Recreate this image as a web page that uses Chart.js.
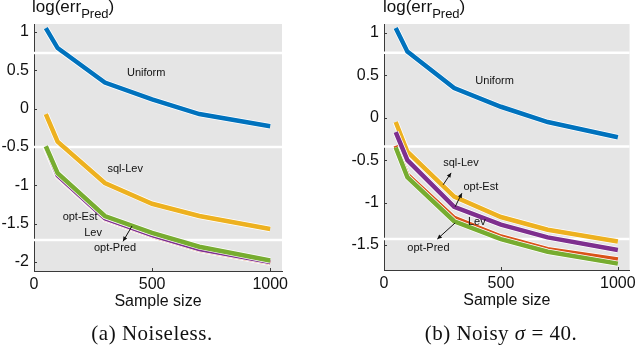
<!DOCTYPE html>
<html>
<head>
<meta charset="utf-8">
<script src="https://cdn.jsdelivr.net/npm/chart.js@4"></script>
<style>
  body { margin: 0; background: #fff; }
  #wrap { position: relative; width: 640px; height: 347px; overflow: hidden; }
  .panel { position: absolute; top: 0; width: 320px; height: 347px; }
  .ylab { position: absolute; top: -2px; font-family: "Liberation Sans", Arial, sans-serif; font-size: 17px; line-height: 17px; white-space: nowrap; color: #111; }
  .ylab sub { font-size: 13px; vertical-align: -6px; line-height: 0; }
  .cap { position: absolute; top: 323px; font-family: "Liberation Serif", serif; font-size: 21px; line-height: 21px; letter-spacing: 0.5px; white-space: nowrap; transform: translateX(-50%); color: #111; }
</style>
</head>
<body>
<div id="wrap">
  <div class="panel" style="left:0"><canvas id="chartA" width="320" height="347"></canvas></div>
  <div class="panel" style="left:320px"><canvas id="chartB" width="320" height="347"></canvas></div>
  <div class="ylab" style="left:32px">log(err<sub>Pred</sub>)</div>
  <div class="ylab" style="left:383px">log(err<sub>Pred</sub>)</div>
  <div class="cap" style="left:152px">(a) Noiseless.</div>
  <div class="cap" style="left:501px">(b) Noisy <i>σ</i> = 40.</div>
</div>
<script>
const sampleSizes = [50, 100, 300, 500, 700, 1000];
const xTicks = [0, 500, 1000];
const yTicksA = [-2, -1.5, -1, -0.5, 0, 0.5, 1];
const yTicksB = [-1.5, -1, -0.5, 0, 0.5, 1];

// (a) noiseless
const uniformA  = [1.05, 0.79, 0.34, 0.12, -0.07, -0.23];
const levA      = [-0.51, -0.88, -1.44, -1.66, -1.84, -2.01];
const sqlLevA   = [-0.07, -0.43, -0.97, -1.24, -1.40, -1.57];
const optEstA   = [-0.50, -0.87, -1.43, -1.65, -1.83, -2.00];
const optPredA  = [-0.49, -0.84, -1.40, -1.62, -1.80, -1.98];

// (b) noisy, sigma = 40
const uniformB  = [1.06, 0.78, 0.35, 0.13, -0.05, -0.23];
const levB      = [-0.33, -0.67, -1.18, -1.40, -1.55, -1.67];
const sqlLevB   = [-0.05, -0.40, -0.93, -1.17, -1.32, -1.46];
const optEstB   = [-0.17, -0.50, -1.05, -1.26, -1.41, -1.56];
const optPredB  = [-0.35, -0.70, -1.22, -1.43, -1.58, -1.72];

// text labels on the plots, in data units
const notesA = [
  { text: 'Uniform',  x: 475, y: 0.465 },
  { text: 'sql-Lev',  x: 386, y: -0.79 },
  { text: 'opt-Est',  x: 195, y: -1.415 },
  { text: 'Lev',      x: 250, y: -1.62 },
  { text: 'opt-Pred', x: 343, y: -1.82 }
];
const arrowsA = [ { from: [415, -1.53], to: [377, -1.73] } ];

const notesB = [
  { text: 'Uniform',  x: 473, y: 0.43 },
  { text: 'sql-Lev',  x: 329, y: -0.53 },
  { text: 'opt-Est',  x: 414, y: -0.82 },
  { text: 'Lev',      x: 397, y: -1.23 },
  { text: 'opt-Pred', x: 190, y: -1.54 }
];
const arrowsB = [
  { from: [253, -0.79], to: [287, -0.65] },
  { from: [304, -1.05], to: [333, -0.89] },
  { from: [304, -1.24], to: [228, -1.43] }
];

const colors = { uniform: '#0072BD', lev: '#D95319', sql: '#EDB120', est: '#7E2F8E', pred: '#77AC30' };
const FONT = '"Liberation Sans", Arial, sans-serif';
const AXIS = '#3a3a3a';

const decor = {
  id: 'decor',
  beforeDraw(chart) {
    const { ctx, chartArea: a } = chart;
    ctx.save();
    ctx.fillStyle = '#e5e5e5';
    ctx.fillRect(a.left, a.top, a.right - a.left, a.bottom - a.top);
    ctx.restore();
  },
  beforeDatasetsDraw(chart) {
    const { ctx, chartArea: a, scales } = chart;
    ctx.save();
    ctx.strokeStyle = AXIS;
    ctx.lineWidth = 1;
    scales.y.ticks.forEach(t => {
      const py = Math.round(scales.y.getPixelForValue(t.value)) + 0.5;
      ctx.beginPath(); ctx.moveTo(a.left, py); ctx.lineTo(a.left + 3, py); ctx.stroke();
    });
    scales.x.ticks.forEach(t => {
      const px = Math.round(scales.x.getPixelForValue(t.value)) + 0.5;
      ctx.beginPath(); ctx.moveTo(px, a.bottom); ctx.lineTo(px, a.bottom - 3); ctx.stroke();
    });
    // white rendering stripes across the panel
    ctx.strokeStyle = '#ffffff';
    ctx.lineWidth = 2.5;
    [0.117, 0.498, 0.874].forEach(f => {
      const py = a.top + f * (a.bottom - a.top);
      ctx.beginPath(); ctx.moveTo(a.left - 2, py); ctx.lineTo(a.right, py); ctx.stroke();
    });
    ctx.restore();
  },
  afterDatasetsDraw(chart) {
    const { ctx, scales } = chart;
    const o = chart.options.plugins.decor;
    ctx.save();
    ctx.fillStyle = '#111';
    ctx.font = '11px ' + FONT;
    ctx.textAlign = 'center';
    ctx.textBaseline = 'middle';
    o.notes.forEach(n => {
      ctx.fillText(n.text, scales.x.getPixelForValue(n.x), scales.y.getPixelForValue(n.y));
    });
    ctx.strokeStyle = '#111';
    ctx.lineWidth = 1;
    o.arrows.forEach(ar => {
      const x1 = scales.x.getPixelForValue(ar.from[0]), y1 = scales.y.getPixelForValue(ar.from[1]);
      const x2 = scales.x.getPixelForValue(ar.to[0]), y2 = scales.y.getPixelForValue(ar.to[1]);
      const ang = Math.atan2(y2 - y1, x2 - x1);
      ctx.beginPath(); ctx.moveTo(x1, y1); ctx.lineTo(x2, y2); ctx.stroke();
      ctx.beginPath();
      ctx.moveTo(x2, y2);
      ctx.lineTo(x2 - 5 * Math.cos(ang - 0.45), y2 - 5 * Math.sin(ang - 0.45));
      ctx.lineTo(x2 - 5 * Math.cos(ang + 0.45), y2 - 5 * Math.sin(ang + 0.45));
      ctx.closePath(); ctx.fill();
    });
    ctx.restore();
  }
};

function line(data, color, width) {
  return {
    data: sampleSizes.map((x, i) => ({ x, y: data[i] })),
    borderColor: color, borderWidth: width,
    pointRadius: 0, tension: 0, fill: false,
    borderCapStyle: 'butt', borderJoinStyle: 'miter'
  };
}

// index 0 is drawn on top, so list in reverse plotting order, each line above its white edge
function series(uniform, lev, sql, est, pred) {
  const out = [];
  [[pred, colors.pred], [est, colors.est], [sql, colors.sql], [lev, colors.lev], [uniform, colors.uniform]]
    .forEach(([d, c]) => { out.push(line(d, c, 4.5)); out.push(line(d, '#ffffff', 6)); });
  return out;
}

function makeChart(id, datasets, yTicks, yMin, yMax, axisW, padRight, padBottom, notes, arrows) {
  return new Chart(document.getElementById(id), {
    type: 'line',
    data: { datasets },
    options: {
      responsive: false,
      animation: false,
      layout: { padding: { left: 0, right: padRight, top: 24, bottom: padBottom } },
      plugins: { legend: { display: false }, tooltip: { enabled: false }, decor: { notes, arrows } },
      scales: {
        x: {
          type: 'linear', min: 0, max: 1050,
          afterBuildTicks: s => { s.ticks = xTicks.map(v => ({ value: v })); },
          afterFit: s => { s.height = 40; },
          grid: { display: false, drawTicks: false },
          border: { display: true, color: AXIS, width: 1 },
          ticks: { font: { size: 16, family: FONT }, color: '#111', padding: 4, maxRotation: 0, autoSkip: false, callback: v => String(v) },
          title: { display: true, text: 'Sample size', font: { size: 16, family: FONT }, color: '#111', padding: 0 }
        },
        y: {
          type: 'linear', min: yMin, max: yMax,
          afterBuildTicks: s => { s.ticks = yTicks.map(v => ({ value: v })); },
          afterFit: s => { s.width = axisW; },
          grid: { display: false, drawTicks: false },
          border: { display: true, color: AXIS, width: 1 },
          ticks: { font: { size: 16, family: FONT }, color: '#111', padding: 5, callback: v => String(v) }
        }
      }
    },
    plugins: [decor]
  });
}

makeChart('chartA', series(uniformA, levA, sqlLevA, optEstA, optPredA), yTicksA, -2.117, 1.104, 34, 38, 36, notesA, arrowsA);
makeChart('chartB', series(uniformB, levB, sqlLevB, optEstB, optPredB), yTicksB, -1.795, 1.106, 64, 7, 37, notesB, arrowsB);
</script>
</body>
</html>
